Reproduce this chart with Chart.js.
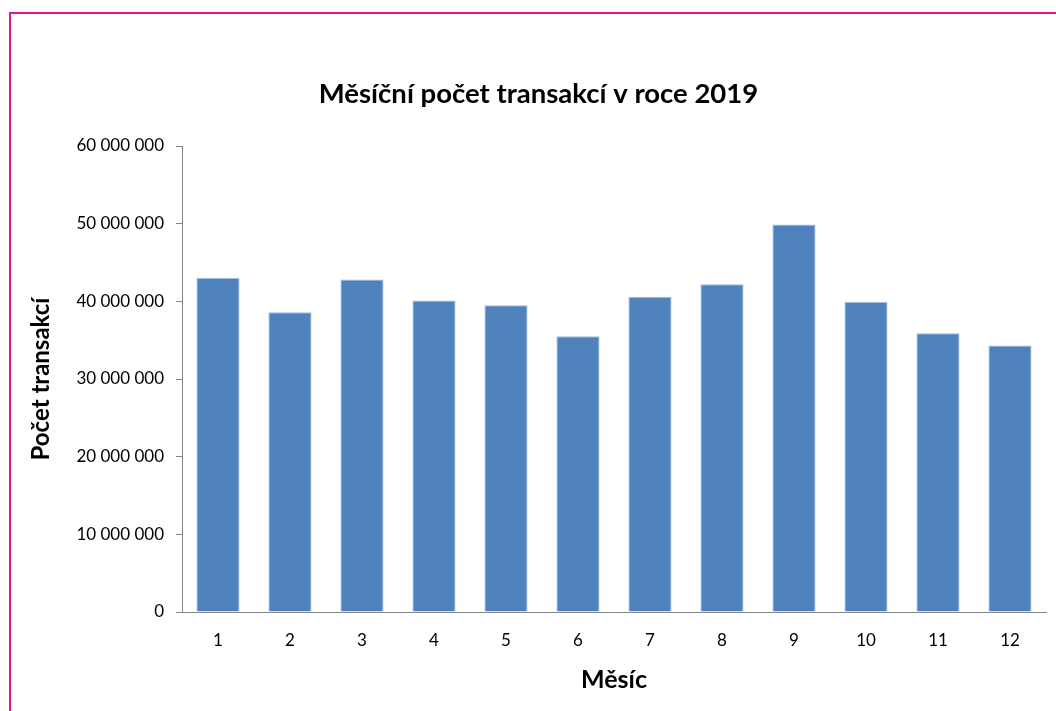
<!DOCTYPE html>
<html>
<head>
<meta charset="utf-8">
<script src="https://cdn.jsdelivr.net/npm/chart.js@4/dist/chart.umd.min.js"></script>
<style>
  html, body { margin: 0; padding: 0; background: #fff; overflow: hidden; }
  #wrap { position: relative; width: 1056px; height: 711px; }
  #frame {
    position: absolute; left: 9px; top: 12px; width: 1200px; height: 900px;
    border-left: 2.5px solid #e0168f; border-top: 2.5px solid #e0168f;
    pointer-events: none;
  }
  canvas { position: absolute; left: 0; top: 0; }
</style>
</head>
<body>
<div id="wrap">
  <canvas id="c" width="1056" height="711"></canvas>
  <div id="frame"></div>
</div>
<script>
// Monthly transaction counts for 2019
const months = ['1', '2', '3', '4', '5', '6', '7', '8', '9', '10', '11', '12'];
const transactions = [43000000, 38600000, 42800000, 40100000, 39500000, 35500000,
                      40600000, 42200000, 49900000, 39900000, 35900000, 34300000];
const yTicks = [0, 10000000, 20000000, 30000000, 40000000, 50000000, 60000000];

const chartTitle = 'Měsíční počet transakcí v roce 2019';
const xTitle = 'Měsíc';
const yTitle = 'Počet transakcí';

const FONT = 'Lato, "Liberation Sans", sans-serif';
const fmt = v => String(v).replace(/\B(?=(\d{3})+(?!\d))/g, ' ');

new Chart(document.getElementById('c'), {
  type: 'bar',
  data: {
    labels: months,
    datasets: [{
      data: transactions,
      backgroundColor: '#4f81bd',
      borderColor: '#a3bddc',
      borderWidth: 1,
      categoryPercentage: 1,
      barPercentage: 0.6
    }]
  },
  options: {
    responsive: false,
    animation: false,
    devicePixelRatio: 1,
    layout: { padding: { left: 31, right: 10, top: 0, bottom: 0 } },
    plugins: {
      legend: { display: false },
      tooltip: { enabled: false },
      title: {
        display: true,
        text: chartTitle,
        color: '#000',
        font: { family: FONT, size: 27.5, weight: 'bold' },
        padding: { top: 78, bottom: 35 }
      }
    },
    scales: {
      x: {
        grid: { display: false, drawTicks: false },
        border: { display: true, color: '#868686', width: 1 },
        ticks: { color: '#000', font: { family: FONT, size: 17 }, padding: 18, maxRotation: 0 },
        title: {
          display: true, text: xTitle, color: '#000',
          font: { family: FONT, size: 25, weight: 'bold' },
          padding: { top: 12, bottom: 16 }
        },
        afterFit: s => { s.height = 99; }
      },
      y: {
        min: 0, max: 60000000,
        afterBuildTicks: s => { s.ticks = yTicks.map(v => ({ value: v })); },
        grid: { drawOnChartArea: false, drawTicks: true, tickLength: 6, color: '#868686' },
        border: { display: true, color: '#868686', width: 1 },
        ticks: { color: '#000', font: { family: FONT, size: 17 }, padding: 12, callback: v => fmt(v) },
        title: {
          display: true, text: yTitle, color: '#000',
          font: { family: FONT, size: 24, weight: 'bold' },
          padding: { top: -4, bottom: 0 }
        },
        afterFit: s => { s.width = 151; }
      }
    }
  }
});
</script>
</body>
</html>
